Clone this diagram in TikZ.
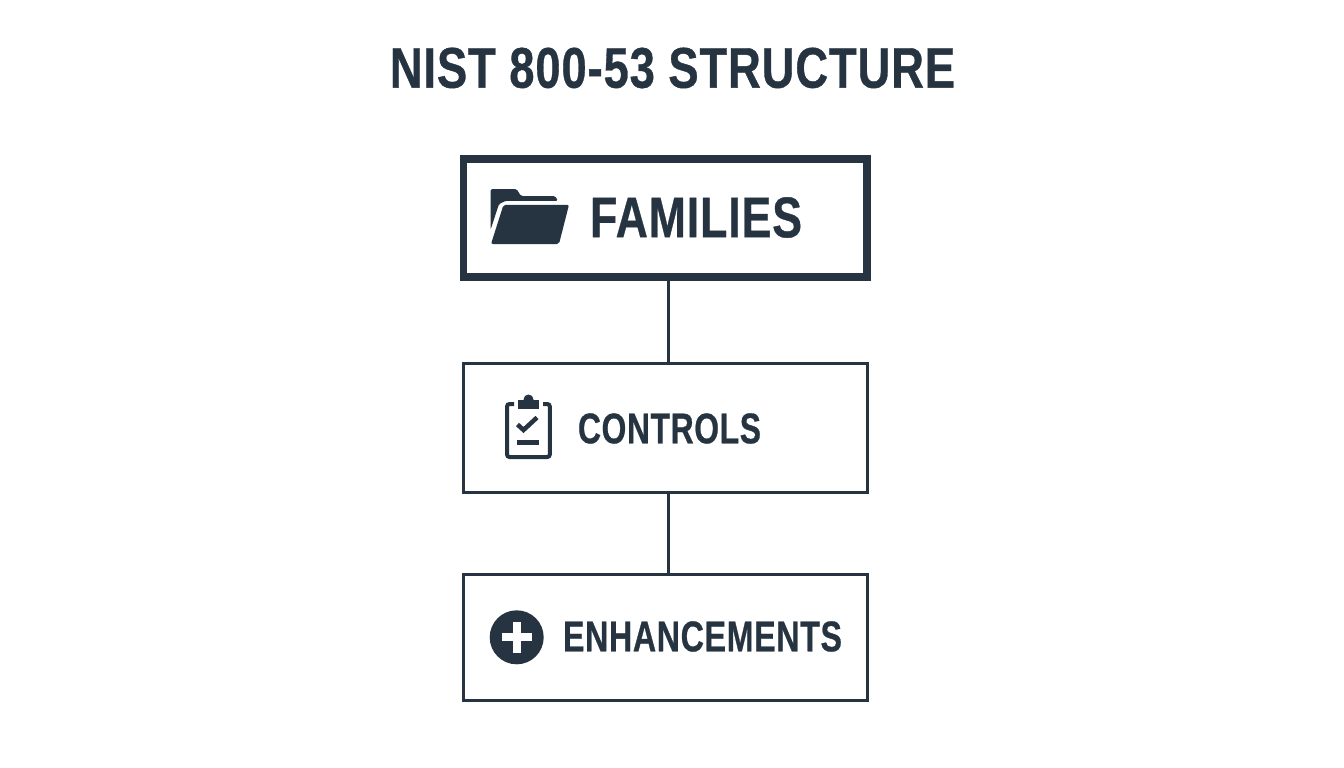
\documentclass[tikz,border=0pt]{standalone}
\usepackage{fontspec}
\usepackage{graphicx}
\setmainfont[BoldFeatures={FakeBold=0.7,LetterSpace=2}]{Liberation Sans}
\definecolor{ink}{HTML}{263441}
\newcommand{\fitlabel}[3]{\resizebox{#1pt}{#2pt}{\bfseries #3}}
\tikzset{
  boxthin/.style={draw=ink,line width=3pt,fill=white,outer sep=0pt,inner sep=0pt,minimum width=404.5pt},
  boxthick/.style={draw=ink,line width=7.5pt,fill=white,outer sep=0pt,inner sep=0pt,minimum width=403.5pt,minimum height=118pt},
  label/.style={text=ink,inner sep=0pt,outer sep=0pt},
  link/.style={draw=ink,line width=3pt},
  iconfill/.style={fill=ink,draw=none},
  iconline/.style={draw=ink,line width=4pt}
}
\begin{document}
\begin{tikzpicture}[x=1pt,y=-1pt]
\useasboundingbox (0,0) rectangle (1344,768);
\fill[white] (0,0) rectangle (1344,768);
\node[label] (title) at (672.5,68) {\fitlabel{565}{40}{NIST 800-53 STRUCTURE}};
\node[boxthick] (fam) at (665.25,218) {};
\node[boxthin,minimum height=129pt] (ctl) at (665.25,428) {};
\node[boxthin,minimum height=125.5pt] (enh) at (665.25,637.25) {};
\coordinate (cx) at (668.7,0);
\draw[link] (fam.south -| cx) -- (ctl.north -| cx);
\draw[link] (ctl.south -| cx) -- (enh.north -| cx);
\node[label] (famtext) at (696,217.5) {\fitlabel{212}{40}{FAMILIES}};
\node[label] (ctltext) at (669.5,428.5) {\fitlabel{183}{30}{CONTROLS}};
\node[label] (enhtext) at (702.5,636.5) {\fitlabel{279}{30}{ENHANCEMENTS}};
% folder icon
\fill[iconfill,rounded corners=1.5pt] (490.5,230) -- (490.5,189) -- (516.5,189) -- (521,196) -- (555,196) -- (558,200.8) -- (506,200.8) -- (499,204) -- cycle;
\fill[iconfill,rounded corners=2pt] (503.5,204.8) -- (569,204.8) -- (559,244) -- (491,244) -- cycle;
% clipboard icon
\draw[iconline,rounded corners=2.5pt] (514,404) -- (507,404) -- (507,457) -- (549.8,457) -- (549.8,404) -- (543,404);
\fill[iconfill] (517.7,400) rectangle (539.3,409);
\fill[iconfill] (528.5,399.5) circle[radius=5];
\draw[draw=ink,line width=4.5pt] (517.5,424.5) -- (523.5,430) -- (537,417.5);
\fill[iconfill] (517.3,440) rectangle (539.3,445);
% plus icon
\fill[iconfill] (516.7,637.3) circle[radius=27];
\fill[white] (501.7,633.3) rectangle (532.3,641.3);
\fill[white] (512.7,621.7) rectangle (520.7,653);
\end{tikzpicture}
\end{document}
